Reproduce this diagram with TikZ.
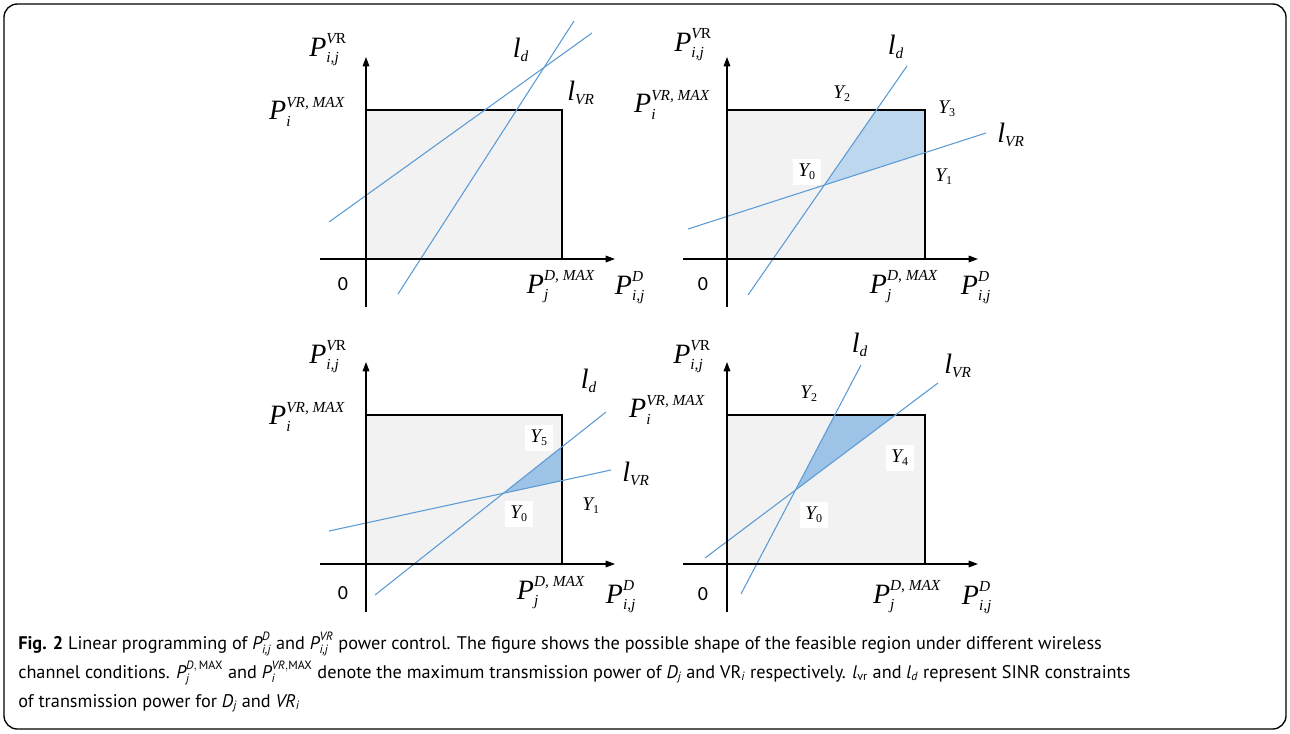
\documentclass[tikz,border=0pt]{standalone}
\usepackage{amsmath}
\usepackage{fontspec}
\setmainfont{Liberation Serif}
\newfontfamily\capfont{PT Sans}
\newfontfamily\zerofont{Carlito}
\usetikzlibrary{arrows.meta,intersections}
\DeclareMathSizes{21}{21}{11.5}{9}
\DeclareMathSizes{14.5}{14.5}{9}{7}
\DeclareMathSizes{13.7}{13.7}{9}{7}
\newcommand\ti[1]{\text{\itshape #1}}
\newcommand\lbPvr{$\ti{P}^{\ti{V}\text{R}}_{\ti{i,j}}$}
\newcommand\lbPvrmax{$\ti{P}^{\ti{VR, MAX}}_{\ti{i}}$}
\newcommand\lbPdmax{$\ti{P}^{\ti{D, MAX}}_{\ti{j}}$}
\newcommand\lbPd{$\ti{P}^{\ti{D}}_{\ti{i,j}}$}
\newcommand\lbld{$\ti{l}_{\ti{d}}$}
\newcommand\lblvr{$\ti{l}_{\ti{VR}}$}
\newcommand\lbY[1]{$\ti{Y}_{\text{#1}}$}
\definecolor{lineblue}{HTML}{5B9BD5}
\definecolor{shadeA}{HTML}{BDD7EE}
\definecolor{shadeB}{HTML}{9DC3E6}
\definecolor{boxgray}{HTML}{F2F2F2}
\tikzset{
  lab/.style={font=\fontsize{21}{23}\selectfont, inner sep=0pt},
  ylab/.style={font=\fontsize{14.5}{16}\selectfont, inner sep=1pt},
  ybox/.style={font=\fontsize{14.5}{16}\selectfont, fill=white, inner sep=4pt},
  zerolab/.style={font=\zerofont\fontsize{15}{17}\selectfont, inner sep=0pt},
  capline/.style={font=\capfont\fontsize{13.7}{15}\selectfont, inner sep=0pt, anchor=base west},
  regionbox/.style={draw, line width=1pt, fill=boxgray},
  regionedge/.style={draw, line width=1pt},
  constr/.style={lineblue, line width=0.8pt},
  axisarrow/.style={line width=0.8pt, -{Triangle[length=7pt,width=5pt]}},
}
\begin{document}
\begin{tikzpicture}[x=0.75pt,y=-0.75pt]
\useasboundingbox (0,0) rectangle (1290,733);
\draw[line width=1pt, rounded corners=10pt] (4,4) rectangle (1286,729);

% ---------------- Panel a (top-left)
\coordinate (a-tl) at (366,110); \coordinate (a-tr) at (562,110);
\coordinate (a-br) at (562,259); \coordinate (a-bl) at (366,259);
\filldraw[regionbox] (a-tl) rectangle (a-br);
\coordinate (a-v1) at (329,222); \coordinate (a-v2) at (592,33);
\coordinate (a-d1) at (398,294); \coordinate (a-d2) at (574,21);
\draw[constr] (a-v1) -- (a-v2);
\draw[constr] (a-d1) -- (a-d2);
\coordinate (a-yb) at (366,307); \coordinate (a-yt) at (366,57);
\coordinate (a-xl) at (320,259); \coordinate (a-xr) at (615,259);
\draw[axisarrow] (a-yb) -- (a-yt);
\draw[axisarrow] (a-xl) -- (a-xr);
\node[lab] (a-ylab) at (328,50) {\lbPvr};
\node[lab] (a-max) at (307,112) {\lbPvrmax};
\node[lab] (a-ld) at (521,50) {\lbld};
\node[lab] (a-lvr) at (581,93) {\lblvr};
\node[zerolab] (a-zero) at (343,284) {0};
\node[lab] (a-dmax) at (561,287) {\lbPdmax};
\node[lab] (a-xlab) at (630,288) {\lbPd};

% ---------------- Panel b (top-right)
\coordinate (b-tl) at (727,110); \coordinate (b-tr) at (925,110);
\coordinate (b-br) at (925,259); \coordinate (b-bl) at (727,259);
\filldraw[regionbox] (b-tl) rectangle (b-br);
\coordinate (b-v1) at (688,229); \coordinate (b-v2) at (986,133);
\coordinate (b-d1) at (748,295); \coordinate (b-d2) at (907,66);
\path[name path=b-top] (b-tl) -- (b-tr);
\path[name path=b-right] (b-tr) -- (b-br);
\path[name path=b-lvrp] (b-v1) -- (b-v2);
\path[name path=b-ldp] (b-d1) -- (b-d2);
\path[name intersections={of=b-lvrp and b-ldp, by=b-y0}];
\path[name intersections={of=b-ldp and b-top, by=b-pt}];
\path[name intersections={of=b-lvrp and b-right, by=b-pr}];
\fill[shadeA] (b-y0) -- (b-pt) -- (b-tr) -- (b-pr) -- cycle;
\draw[regionedge] (b-tl) rectangle (b-br);
\draw[constr] (b-v1) -- (b-v2);
\draw[constr] (b-d1) -- (b-d2);
\coordinate (b-yb) at (727,307); \coordinate (b-yt) at (727,57);
\coordinate (b-xl) at (683,259); \coordinate (b-xr) at (978,259);
\draw[axisarrow] (b-yb) -- (b-yt);
\draw[axisarrow] (b-xl) -- (b-xr);
\node[lab] (b-ylab) at (693,45) {\lbPvr};
\node[lab] (b-max) at (672,105) {\lbPvrmax};
\node[lab] (b-ld) at (896,47) {\lbld};
\node[lab] (b-lvr) at (1011,135) {\lblvr};
\node[ylab] (b-Y2) at (842,94) {\lbY{2}};
\node[ylab] (b-Y3) at (947,109) {\lbY{3}};
\node[ybox] (b-Y0) at (807,172) {\lbY{0}};
\node[ylab] (b-Y1) at (944,177) {\lbY{1}};
\node[zerolab] (b-zero) at (703,284) {0};
\node[lab] (b-dmax) at (904,287) {\lbPdmax};
\node[lab] (b-xlab) at (976,288) {\lbPd};

% ---------------- Panel c (bottom-left)
\coordinate (c-tl) at (366,415); \coordinate (c-tr) at (562,415);
\coordinate (c-br) at (562,564); \coordinate (c-bl) at (366,564);
\filldraw[regionbox] (c-tl) rectangle (c-br);
\coordinate (c-v1) at (329,531); \coordinate (c-v2) at (611,470);
\coordinate (c-d1) at (375,595); \coordinate (c-d2) at (606,412);
\path[name path=c-right] (c-tr) -- (c-br);
\path[name path=c-lvrp] (c-v1) -- (c-v2);
\path[name path=c-ldp] (c-d1) -- (c-d2);
\path[name intersections={of=c-lvrp and c-ldp, by=c-y0}];
\path[name intersections={of=c-ldp and c-right, by=c-pd}];
\path[name intersections={of=c-lvrp and c-right, by=c-pv}];
\fill[shadeB] (c-y0) -- (c-pd) -- (c-pv) -- cycle;
\draw[regionedge] (c-tl) rectangle (c-br);
\draw[constr] (c-v1) -- (c-v2);
\draw[constr] (c-d1) -- (c-d2);
\coordinate (c-yb) at (366,612); \coordinate (c-yt) at (366,362);
\coordinate (c-xl) at (320,564); \coordinate (c-xr) at (615,564);
\draw[axisarrow] (c-yb) -- (c-yt);
\draw[axisarrow] (c-xl) -- (c-xr);
\node[lab] (c-ylab) at (328,357) {\lbPvr};
\node[lab] (c-max) at (307,417) {\lbPvrmax};
\node[lab] (c-ld) at (589,381) {\lbld};
\node[lab] (c-lvr) at (636,474) {\lblvr};
\node[ybox] (c-Y5) at (539,438) {\lbY{5}};
\node[ybox] (c-Y0) at (519,514) {\lbY{0}};
\node[ylab] (c-Y1) at (591,506) {\lbY{1}};
\node[zerolab] (c-zero) at (343,593) {0};
\node[lab] (c-dmax) at (551,593) {\lbPdmax};
\node[lab] (c-xlab) at (621,597) {\lbPd};

% ---------------- Panel d (bottom-right)
\coordinate (d-tl) at (727,415); \coordinate (d-tr) at (925,415);
\coordinate (d-br) at (925,564); \coordinate (d-bl) at (727,564);
\filldraw[regionbox] (d-tl) rectangle (d-br);
\coordinate (d-v1) at (705,558); \coordinate (d-v2) at (938,383);
\coordinate (d-d1) at (741,594); \coordinate (d-d2) at (861,365);
\path[name path=d-top] (d-tl) -- (d-tr);
\path[name path=d-lvrp] (d-v1) -- (d-v2);
\path[name path=d-ldp] (d-d1) -- (d-d2);
\path[name intersections={of=d-lvrp and d-ldp, by=d-y0}];
\path[name intersections={of=d-ldp and d-top, by=d-pd}];
\path[name intersections={of=d-lvrp and d-top, by=d-pv}];
\fill[shadeB] (d-y0) -- (d-pd) -- (d-pv) -- cycle;
\draw[regionedge] (d-tl) rectangle (d-br);
\draw[constr] (d-v1) -- (d-v2);
\draw[constr] (d-d1) -- (d-d2);
\coordinate (d-yb) at (727,612); \coordinate (d-yt) at (727,362);
\coordinate (d-xl) at (683,564); \coordinate (d-xr) at (978,564);
\draw[axisarrow] (d-yb) -- (d-yt);
\draw[axisarrow] (d-xl) -- (d-xr);
\node[lab] (d-ylab) at (692,357) {\lbPvr};
\node[lab] (d-max) at (667,410) {\lbPvrmax};
\node[lab] (d-ld) at (860,345) {\lbld};
\node[lab] (d-lvr) at (958,366) {\lblvr};
\node[ylab] (d-Y2) at (809,394) {\lbY{2}};
\node[ybox] (d-Y4) at (900,458) {\lbY{4}};
\node[ybox] (d-Y0) at (814,515) {\lbY{0}};
\node[zerolab] (d-zero) at (703,594) {0};
\node[lab] (d-dmax) at (907,597) {\lbPdmax};
\node[lab] (d-xlab) at (977,598) {\lbPd};

% ---------------- Caption
\node[capline] (cap1) at (18,649) {\textbf{Fig. 2} Linear programming of $\ti{P}^{\ti{D}}_{\ti{i,j}}$ and $\ti{P}^{\ti{VR}}_{\ti{i,j}}$ power control. The figure shows the possible shape of the feasible region under different wireless};
\node[capline] (cap2) at (18,678) {channel conditions. $\ti{P}^{\ti{D},\,\text{MAX}}_{\ti{j}}$ and $\ti{P}^{\ti{VR},\text{MAX}}_{\ti{i}}$ denote the maximum transmission power of $\ti{D}_{\ti{j}}$ and VR$_{\ti{i}}$ respectively. $\ti{l}_{\text{vr}}$ and $\ti{l}_{\ti{d}}$ represent SINR constraints};
\node[capline] (cap3) at (18,707) {of transmission power for $\ti{D}_{\ti{j}}$ and $\ti{VR}_{\ti{i}}$};
\end{tikzpicture}
\end{document}
